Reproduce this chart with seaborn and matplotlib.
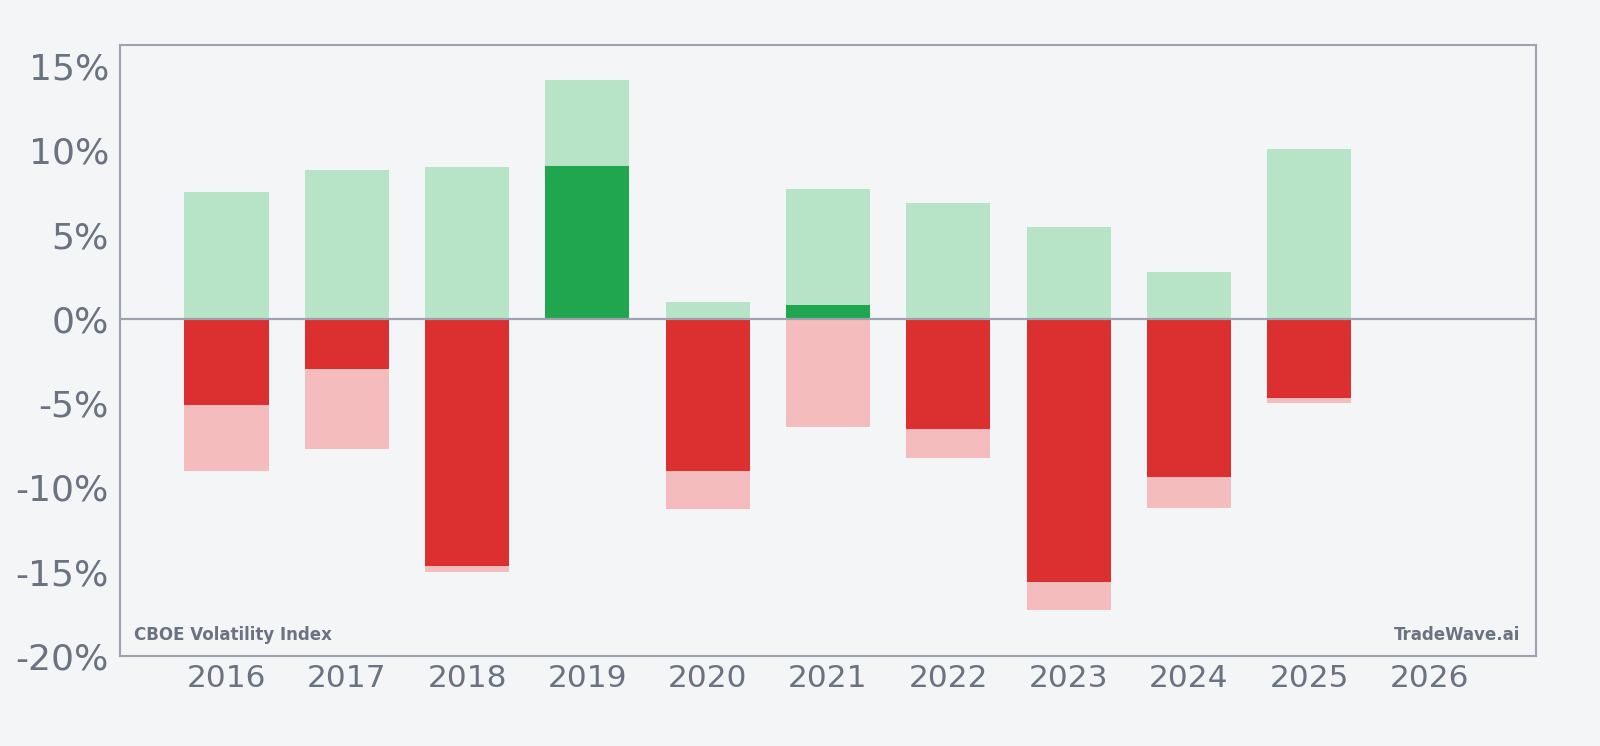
import matplotlib
matplotlib.use("Agg")
import matplotlib.pyplot as plt
import matplotlib.ticker as mticker
import seaborn as sns
import pandas as pd
import numpy as np

years = ["2016", "2017", "2018", "2019", "2020", "2021", "2022", "2023", "2024", "2025", "2026"]
max_gain = [7.5, 8.85, 9.0, 14.2, 1.0, 7.7, 6.85, 5.45, 2.8, 10.1, np.nan]
max_loss = [-9.0, -7.7, -15.0, np.nan, -11.3, -6.4, -8.25, -17.3, -11.2, -5.0, np.nan]
final_ret = [-5.1, -2.97, -14.67, 9.1, -9.0, 0.8, -6.55, -15.6, -9.4, -4.7, np.nan]

BG = "#f4f5f7"
TXT = "#6b7280"
SP = "#9ca3af"
LG = "#b7e4c7"
DG = "#1fa64f"
LR = "#f4bcbc"
DR = "#dc2f2f"

df = pd.DataFrame({"year": years, "gain": max_gain, "loss": max_loss, "final": final_ret})
df["final_pos"] = df["final"].where(df["final"] > 0)
df["final_neg"] = df["final"].where(df["final"] < 0)

sns.set_theme(style="white")
plt.rcParams["font.family"] = ["DejaVu Sans"]
fig = plt.figure(figsize=(16, 7.46), dpi=100, facecolor=BG)
ax = fig.add_axes([120/1600, 1 - 656/746, (1536-120)/1600, (656-45)/746])
ax.set_facecolor(BG)

for col, c in [("gain", LG), ("loss", LR), ("final_pos", DG), ("final_neg", DR)]:
    sns.barplot(data=df, x="year", y=col, order=years, color=c, saturation=1,
                width=0.7, ax=ax, errorbar=None, linewidth=0)

ax.axhline(0, color=SP, lw=1.6, zorder=5)
ax.set_xlim(-0.885, 10.885)
ax.set_ylim(-20, 16.25)
ax.set_yticks(np.arange(-20, 16, 5))
ax.yaxis.set_major_formatter(mticker.FuncFormatter(lambda v, p: f"{v:.0f}%"))
ax.set_xlabel("")
ax.set_ylabel("")
for s in ax.spines.values():
    s.set_visible(True)
    s.set_color(SP)
    s.set_linewidth(1.5)
ax.tick_params(axis="both", colors=SP, labelcolor=TXT, length=4, width=1, direction="out")
ax.tick_params(axis="x", labelsize=22.5, pad=2)
ax.tick_params(axis="y", labelsize=26, pad=4)
ax.grid(False)

ax.text(0.01, 0.026, "CBOE Volatility Index", transform=ax.transAxes, fontsize=12,
        fontweight="bold", color=TXT, ha="left", va="baseline")
ax.text(0.989, 0.026, "TradeWave.ai", transform=ax.transAxes, fontsize=12,
        fontweight="bold", color=TXT, ha="right", va="baseline")

fig.savefig("out.png", dpi=100, facecolor=BG)
